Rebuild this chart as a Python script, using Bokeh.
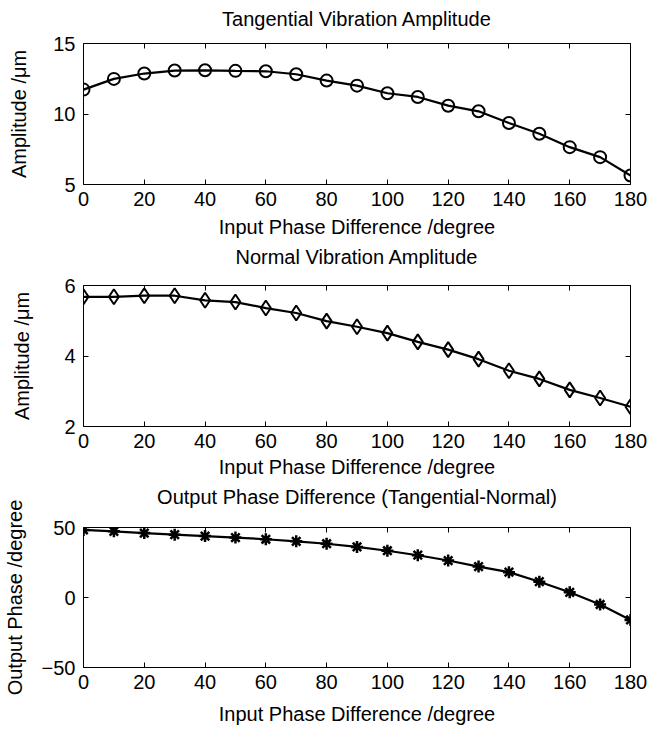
from bokeh.plotting import figure
from bokeh.models import Range1d, FixedTicker, LinearAxis
from bokeh.layouts import column
from bokeh.embed import file_html
from bokeh.resources import INLINE

phase_in = [0, 10, 20, 30, 40, 50, 60, 70, 80, 90, 100, 110, 120, 130, 140, 150, 160, 170, 180]
tangential = [11.73, 12.49, 12.87, 13.08, 13.10, 13.06, 13.03, 12.82, 12.37, 12.01,
              11.47, 11.21, 10.59, 10.19, 9.36, 8.60, 7.65, 6.94, 5.64]
normal = [5.68, 5.68, 5.71, 5.71, 5.58, 5.53, 5.36, 5.22, 4.99, 4.83,
          4.65, 4.40, 4.18, 3.91, 3.58, 3.35, 3.04, 2.81, 2.56]
phase_out = [48.3, 47.3, 46.0, 44.9, 43.9, 42.8, 41.6, 40.1, 38.4, 36.1,
             33.4, 30.2, 26.4, 22.1, 18.1, 11.3, 3.7, -5.0, -16.0]

x_ticks = [0, 20, 40, 60, 80, 100, 120, 140, 160, 180]
titles = ["Tangential Vibration Amplitude", "Normal Vibration Amplitude",
          "Output Phase Difference (Tangential-Normal)"]
ylabels = ["Amplitude /\u03bcm", "Amplitude /\u03bcm", "Output Phase /degree"]
xlabel = "Input Phase Difference /degree"
yranges = [(5, 15), (2, 6), (-50, 50)]
yticks = [[5, 10, 15], [2, 4, 6], [-50, 0, 50]]

FONT = "Liberation Sans"
FS = "20px"

# layout: (height, top border, left border, right border, ylabel standoff,
#          title standoff, xlabel standoff)
geom = [(242, 43, 75, 19, 20, 14, 7),
        (240, 42, 77, 17, 28, 18, 5),
        (247, 44, 77, 17, 13, 20, 11)]
frame_h = [141, 142, 141]


def style_axis(ax, show_labels):
    ax.major_tick_in = 5
    ax.major_tick_out = 0
    ax.minor_tick_line_color = None
    ax.axis_line_color = "black"
    ax.axis_line_width = 1
    ax.major_tick_line_color = "black"
    ax.major_label_text_font = FONT
    if show_labels:
        ax.major_label_text_font_size = FS
        ax.major_label_text_color = "black"
    else:
        ax.major_label_text_font_size = "1px"
        ax.major_label_text_color = None
        ax.major_label_standoff = 0
    ax.axis_label_text_font = FONT
    ax.axis_label_text_font_size = FS
    ax.axis_label_text_font_style = "normal"
    ax.axis_label_text_color = "black"


def make_panel(i, ydata, marker, msize, mlw):
    h, top, left, right, lstand, tstand, xstand = geom[i]
    p = figure(width=649, height=h, output_backend="svg", toolbar_location=None,
               x_range=Range1d(0, 180), y_range=Range1d(*yranges[i]),
               min_border_top=top, min_border_left=left, min_border_right=right,
               min_border_bottom=h - top - frame_h[i])
    p.grid.visible = False
    p.outline_line_color = None
    p.background_fill_color = "white"
    p.border_fill_color = "white"

    p.xaxis.ticker = FixedTicker(ticks=x_ticks)
    p.yaxis.ticker = FixedTicker(ticks=yticks[i])
    for ax in p.xaxis + p.yaxis:
        style_axis(ax, True)
    p.xaxis.major_label_standoff = 7
    p.yaxis.major_label_standoff = 8
    p.xaxis.axis_label = xlabel
    p.yaxis.axis_label = ylabels[i]
    p.xaxis.axis_label_standoff = xstand
    p.yaxis.axis_label_standoff = lstand

    # top axis carries the panel title (box-style frame with inward ticks)
    top_ax = LinearAxis(ticker=FixedTicker(ticks=x_ticks), axis_label=titles[i])
    right_ax = LinearAxis(ticker=FixedTicker(ticks=yticks[i]))
    style_axis(top_ax, False)
    style_axis(right_ax, False)
    top_ax.axis_label_standoff = tstand
    p.add_layout(top_ax, "above")
    p.add_layout(right_ax, "right")

    p.line(phase_in, ydata, line_color="black", line_width=2.2)
    p.scatter(phase_in, ydata, marker=marker, size=msize, line_color="black",
              line_width=mlw, fill_color=None)
    return p


p1 = make_panel(0, tangential, "circle", 12, 2)
p2 = make_panel(1, normal, "diamond", 15, 2)
p3 = make_panel(2, phase_out, "asterisk", 12, 2.5)

layout = column(p1, p2, p3, spacing=0)
open("out.html", "w").write(file_html(layout, INLINE))
